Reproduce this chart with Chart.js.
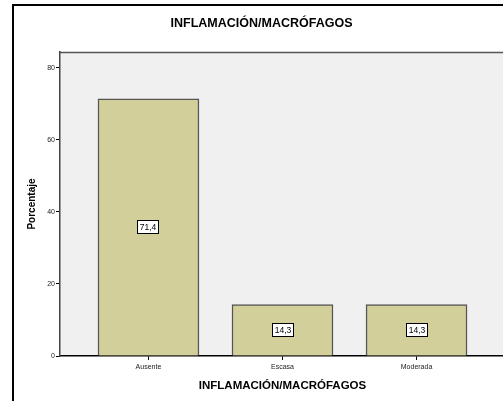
<!DOCTYPE html>
<html>
<head>
<meta charset="utf-8">
<script src="https://cdn.jsdelivr.net/npm/chart.js@4"></script>
<style>
  html, body { margin: 0; padding: 0; background: #fff; overflow: hidden; }
  #wrap { position: absolute; left: 0; top: 0; width: 503px; height: 401px; overflow: hidden; }
</style>
</head>
<body>
<div id="wrap"><canvas id="myChart" width="520" height="401"></canvas></div>
<script>
const categories = ['Ausente', 'Escasa', 'Moderada'];
const porcentaje = [71.4, 14.3, 14.3];
const yTicks = [0, 20, 40, 60, 80];
const title = 'INFLAMACIÓN/MACRÓFAGOS';

const FONT = '"Liberation Sans", Arial, sans-serif';

// frame, plot background and heading
const frame = {
  id: 'frame',
  beforeDraw(chart) {
    const c = chart.ctx, a = chart.chartArea;
    c.save();
    c.fillStyle = '#fff';
    c.fillRect(0, 0, chart.width, chart.height);
    c.fillStyle = '#f0f0f0';
    c.fillRect(a.left, a.top, a.right - a.left, a.bottom - a.top);
    c.strokeStyle = '#000';
    c.lineWidth = 2;
    c.strokeRect(13, 5, 497, 500);
    c.strokeStyle = '#555';
    c.lineWidth = 1.5;
    c.beginPath();
    c.moveTo(a.left, a.top + 0.5);
    c.lineTo(a.right, a.top + 0.5);
    c.stroke();
    c.fillStyle = '#000';
    c.font = 'bold 12.5px ' + FONT;
    c.textAlign = 'center';
    c.textBaseline = 'middle';
    c.fillText(title, 261.5, 24);
    c.restore();
  }
};

// boxed value in the middle of each bar
const valueBoxes = {
  id: 'valueBoxes',
  afterDatasetsDraw(chart) {
    const c = chart.ctx, y = chart.scales.y;
    const meta = chart.getDatasetMeta(0);
    c.save();
    c.font = '8.5px ' + FONT;
    c.textAlign = 'center';
    c.textBaseline = 'middle';
    meta.data.forEach((bar, i) => {
      const v = porcentaje[i];
      const txt = v.toFixed(1).replace('.', ',');
      const cy = Math.round(y.getPixelForValue(v / 2));
      const cx = Math.round(bar.x);
      const w = 22, h = 14;
      c.fillStyle = '#fff';
      c.fillRect(cx - w / 2, cy - h / 2, w, h);
      c.strokeStyle = '#000';
      c.lineWidth = 1;
      c.strokeRect(cx - w / 2 + 0.5, cy - h / 2 + 0.5, w - 1, h - 1);
      c.fillStyle = '#000';
      c.fillText(txt, cx, cy + 0.5);
    });
    c.restore();
  }
};

new Chart(document.getElementById('myChart'), {
  type: 'bar',
  data: {
    datasets: [{
      data: porcentaje.map((v, i) => ({ x: i, y: v })),
      backgroundColor: '#d3cf9b',
      borderColor: '#555',
      borderWidth: 1.5,
      barThickness: 101
    }]
  },
  options: {
    responsive: false,
    animation: false,
    layout: { padding: { top: 52, right: 15, left: 0, bottom: 0 } },
    plugins: {
      legend: { display: false },
      tooltip: { enabled: false }
    },
    scales: {
      x: {
        type: 'linear',
        offset: false,
        min: -0.66,
        max: 2.66,
        afterBuildTicks(s) { s.ticks = categories.map((_, i) => ({ value: i })); },
        afterFit(s) { s.height = 45; },
        ticks: {
          callback: v => categories[v],
          font: { family: FONT, size: 7 },
          color: '#222',
          padding: 3,
          maxRotation: 0
        },
        grid: { drawOnChartArea: false, offset: false, tickLength: 4, color: '#000' },
        border: { color: '#000', width: 1.5 },
        title: {
          display: true,
          text: title,
          font: { family: FONT, size: 11.5, weight: 'bold' },
          color: '#000',
          padding: { top: 0, bottom: 8 }
        }
      },
      y: {
        min: 0,
        max: 84.4,
        afterBuildTicks(s) { s.ticks = yTicks.map(v => ({ value: v })); },
        afterFit(s) { s.width = 60; },
        ticks: {
          font: { family: FONT, size: 7 },
          color: '#222',
          padding: 1
        },
        grid: { drawOnChartArea: false, tickLength: 4, color: '#000' },
        border: { color: '#444', width: 1.5 },
        title: {
          display: true,
          text: 'Porcentaje',
          font: { family: FONT, size: 10, weight: 'bold' },
          color: '#000',
          padding: { top: 26, bottom: 0 }
        }
      }
    }
  },
  plugins: [frame, valueBoxes]
});
</script>
</body>
</html>
